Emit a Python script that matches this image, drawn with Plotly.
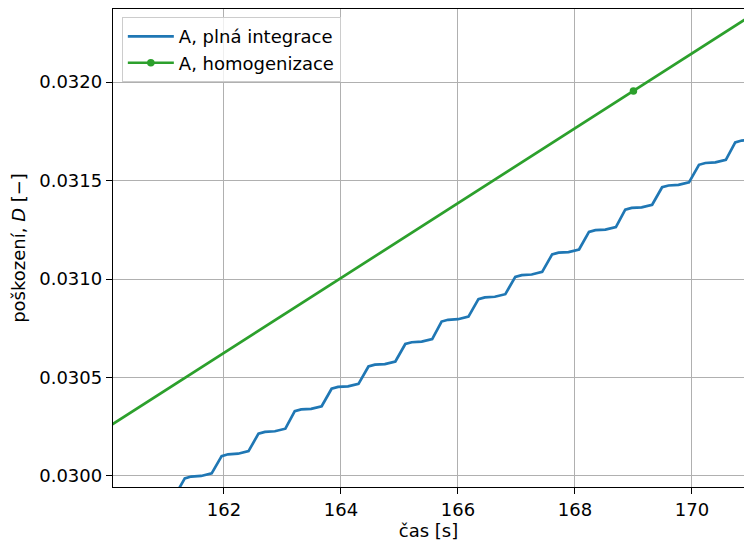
import plotly.graph_objects as go

# --- data ---
t_full = [160.07, 160.18, 160.35, 160.53,
          160.70, 160.81, 160.98, 161.16,
          161.33, 161.44, 161.61, 161.79,
          161.96, 162.07, 162.24, 162.42,
          162.59, 162.70, 162.87, 163.05,
          163.21, 163.32, 163.49, 163.67,
          163.84, 163.95, 164.12, 164.30,
          164.47, 164.58, 164.75, 164.93,
          165.10, 165.21, 165.38, 165.56,
          165.72, 165.83, 166.00, 166.18,
          166.35, 166.46, 166.63, 166.81,
          166.98, 167.09, 167.26, 167.44,
          167.61, 167.72, 167.89, 168.07,
          168.24, 168.35, 168.52, 168.70,
          168.86, 168.97, 169.14, 169.32,
          169.49, 169.60, 169.77, 169.95,
          170.12, 170.23, 170.40, 170.58,
          170.74, 170.85, 171.02, 171.20]
D_full = [0.029761, 0.029770, 0.029773, 0.029786,
          0.029874, 0.029883, 0.029886, 0.029899,
          0.029988, 0.029997, 0.030000, 0.030013,
          0.030101, 0.030110, 0.030113, 0.030126,
          0.030215, 0.030224, 0.030227, 0.030240,
          0.030329, 0.030338, 0.030341, 0.030354,
          0.030443, 0.030452, 0.030455, 0.030468,
          0.030556, 0.030565, 0.030568, 0.030581,
          0.030670, 0.030679, 0.030682, 0.030695,
          0.030784, 0.030793, 0.030796, 0.030809,
          0.030898, 0.030907, 0.030910, 0.030923,
          0.031011, 0.031020, 0.031023, 0.031036,
          0.031125, 0.031134, 0.031137, 0.031150,
          0.031239, 0.031248, 0.031251, 0.031264,
          0.031352, 0.031361, 0.031364, 0.031377,
          0.031466, 0.031475, 0.031478, 0.031491,
          0.031580, 0.031589, 0.031592, 0.031605,
          0.031694, 0.031703, 0.031706, 0.031719]

t_hom = [160.0, 169.0, 171.0]
D_hom = [0.030245, 0.031955, 0.032335]
hom_marker_index = [1]

x_ticks = [162, 164, 166, 168, 170]
y_ticks = [0.0300, 0.0305, 0.0310, 0.0315, 0.0320]

BLUE = "#1f77b4"
GREEN = "#2ca02c"
FONT = "DejaVu Sans"
FS = 18

fig = go.Figure()
fig.add_trace(go.Scatter(
    x=t_full, y=D_full, mode="lines", name="A, plná integrace",
    line=dict(color=BLUE, width=2.7),
))
fig.add_trace(go.Scatter(
    x=t_hom, y=D_hom, mode="lines+markers", name="A, homogenizace",
    line=dict(color=GREEN, width=2.7),
    marker=dict(color=GREEN, size=7.5),
    selectedpoints=hom_marker_index,
    selected=dict(marker=dict(opacity=1)),
    unselected=dict(marker=dict(opacity=0)),
))

axis_common = dict(
    showline=True, linecolor="black", linewidth=1.4,
    ticks="outside", ticklen=6, tickwidth=1.4, tickcolor="black",
    showgrid=True, gridcolor="#b0b0b0", gridwidth=1.4,
    zeroline=False,
    tickfont=dict(family=FONT, size=FS, color="black"),
)

fig.update_layout(
    width=744, height=544,
    margin=dict(l=113, r=0, t=9, b=57),
    paper_bgcolor="white", plot_bgcolor="white",
    font=dict(family=FONT, size=FS, color="black"),
    xaxis=dict(
        range=[160.103, 170.89], tickvals=x_ticks,
        ticktext=[str(v) for v in x_ticks],
        mirror=True,
        title=dict(text="čas [s]", font=dict(family=FONT, size=FS), standoff=4),
        **axis_common,
    ),
    yaxis=dict(
        range=[0.029944, 0.032371], tickvals=y_ticks,
        ticktext=[f"{v:.4f}" for v in y_ticks],
        mirror=False,
        title=dict(text="poškození, <i>D</i> [−]", font=dict(family=FONT, size=FS), standoff=8),
        **axis_common,
    ),
    legend=dict(
        x=0.014, y=0.983, xanchor="left", yanchor="top",
        bgcolor="rgba(255,255,255,0.8)", bordercolor="#cccccc", borderwidth=1,
        font=dict(family=FONT, size=FS, color="black"),
        itemwidth=46, tracegroupgap=0,
    ),
    showlegend=True,
)

fig.write_html("out.html")
